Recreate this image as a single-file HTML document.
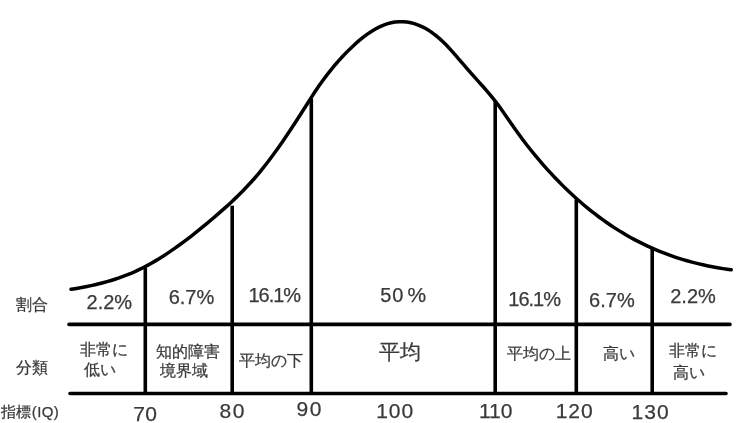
<!DOCTYPE html>
<html lang="ja"><head><meta charset="utf-8">
<style>
html,body{margin:0;padding:0;background:#fff;width:747px;height:423px;overflow:hidden}
svg{position:absolute;left:0;top:0}
text{font-family:"Liberation Sans",sans-serif;fill:#3a3a3a;stroke:#3a3a3a;stroke-width:0.25px}
svg{filter:blur(0.4px)}
</style></head><body>
<svg width="747" height="423" viewBox="0 0 747 423">
<g fill="none" stroke="#000" stroke-width="3.5" stroke-linecap="round" stroke-linejoin="round">
<path d="M71.0 289.32 L75.0 288.66 L79.0 287.97 L83.0 287.24 L87.0 286.45 L91.0 285.62 L95.0 284.73 L99.0 283.78 L103.0 282.76 L107.0 281.67 L111.0 280.50 L115.0 279.25 L119.0 277.91 L123.0 276.47 L127.0 274.94 L131.0 273.30 L135.0 271.55 L139.0 269.69 L143.0 267.71 L147.0 265.62 L151.0 263.42 L155.0 261.11 L159.0 258.70 L163.0 256.20 L167.0 253.60 L171.0 250.92 L175.0 248.14 L179.0 245.29 L183.0 242.36 L187.0 239.36 L191.0 236.29 L195.0 233.15 L199.0 229.95 L203.0 226.70 L207.0 223.39 L211.0 220.03 L215.0 216.63 L219.0 213.18 L223.0 209.67 L227.0 206.09 L231.0 202.42 L235.0 198.64 L239.0 194.75 L243.0 190.72 L247.0 186.55 L251.0 182.23 L255.0 177.72 L259.0 173.03 L263.0 168.14 L267.0 163.04 L271.0 157.76 L275.0 152.30 L279.0 146.68 L283.0 140.93 L287.0 135.04 L291.0 129.04 L295.0 122.94 L299.0 116.75 L303.0 110.50 L307.0 104.19 L311.0 97.92 L315.0 91.77 L319.0 85.85 L323.0 80.23 L327.0 74.89 L331.0 69.81 L335.0 64.99 L339.0 60.40 L343.0 56.03 L347.0 51.87 L351.0 47.91 L355.0 44.17 L359.0 40.66 L363.0 37.40 L367.0 34.40 L371.0 31.68 L375.0 29.26 L379.0 27.14 L383.0 25.35 L387.0 23.90 L391.0 22.80 L395.0 22.06 L399.0 21.69 L403.0 21.68 L407.0 22.03 L411.0 22.75 L415.0 23.84 L419.0 25.29 L423.0 27.11 L427.0 29.30 L431.0 31.86 L435.0 34.79 L439.0 38.09 L443.0 41.76 L447.0 45.78 L451.0 50.10 L455.0 54.62 L459.0 59.28 L463.0 63.97 L467.0 68.63 L471.0 73.18 L475.0 77.63 L479.0 82.05 L483.0 86.51 L487.0 91.07 L491.0 95.81 L495.0 100.80 L499.0 106.10 L503.0 111.67 L507.0 117.41 L511.0 123.22 L515.0 128.99 L519.0 134.61 L523.0 140.01 L527.0 145.20 L531.0 150.23 L535.0 155.13 L539.0 159.89 L543.0 164.53 L547.0 169.04 L551.0 173.43 L555.0 177.69 L559.0 181.83 L563.0 185.86 L567.0 189.76 L571.0 193.55 L575.0 197.23 L579.0 200.79 L583.0 204.25 L587.0 207.59 L591.0 210.83 L595.0 213.96 L599.0 216.98 L603.0 219.91 L607.0 222.73 L611.0 225.46 L615.0 228.09 L619.0 230.62 L623.0 233.06 L627.0 235.41 L631.0 237.67 L635.0 239.84 L639.0 241.92 L643.0 243.92 L647.0 245.83 L651.0 247.66 L655.0 249.41 L659.0 251.09 L663.0 252.69 L667.0 254.21 L671.0 255.66 L675.0 257.04 L679.0 258.35 L683.0 259.59 L687.0 260.76 L691.0 261.87 L695.0 262.92 L699.0 263.91 L703.0 264.83 L707.0 265.70 L711.0 266.52 L715.0 267.27 L719.0 267.98 L723.0 268.64 L727.0 269.24 L731.0 269.80 L731.2 269.83" />
</g>
<g stroke="#000" stroke-width="3.6">
<line x1="145.3" y1="268.0" x2="145.3" y2="395" />
<line x1="232.2" y1="205.7" x2="232.2" y2="395" />
<line x1="311.3" y1="98.5" x2="311.3" y2="395" />
<line x1="495.2" y1="100.9" x2="495.2" y2="395" />
<line x1="576.3" y1="199.2" x2="576.3" y2="395" />
<line x1="652.2" y1="248.4" x2="652.2" y2="395" />
<line x1="69" y1="324.4" x2="730" y2="324.4" stroke-linecap="round"/>
<line x1="70" y1="393.5" x2="726" y2="393.5" stroke-linecap="round"/>
</g>
<g>
<text x="16.30" y="309.90" style="font-size:16.00px">割合</text>
<text x="15.50" y="372.55" style="font-size:16.00px">分類</text>
<text x="1.00" y="417.45" style="font-size:15.00px;letter-spacing:0.40px">指標(IQ)</text>
<text x="86.55" y="309.40" style="font-size:20.00px">2.2%</text>
<text x="168.70" y="304.45" style="font-size:20.00px">6.7%</text>
<text x="248.40" y="302.45" style="font-size:20.00px;letter-spacing:-1.00px">16.1%</text>
<text x="380.30" y="301.90" style="font-size:20.00px;letter-spacing:0.80px">50</text>
<text x="407.40" y="302.00" style="font-size:21.00px">%</text>
<text x="508.30" y="306.30" style="font-size:20.00px;letter-spacing:-1.00px">16.1%</text>
<text x="589.10" y="307.45" style="font-size:20.00px">6.7%</text>
<text x="670.25" y="303.15" style="font-size:20.00px">2.2%</text>
<text x="79.70" y="354.60" style="font-size:16.00px">非常に</text>
<text x="83.55" y="375.30" style="font-size:16.00px">低い</text>
<text x="156.10" y="356.70" style="font-size:16.00px">知的障害</text>
<text x="160.30" y="376.35" style="font-size:16.00px">境界域</text>
<text x="239.25" y="366.35" style="font-size:16.00px">平均の下</text>
<text x="379.10" y="358.60" style="font-size:21.00px">平均</text>
<text x="506.60" y="358.90" style="font-size:16.00px">平均の上</text>
<text x="602.95" y="358.75" style="font-size:16.00px">高い</text>
<text x="669.00" y="356.15" style="font-size:16.00px">非常に</text>
<text x="673.40" y="377.50" style="font-size:16.00px">高い</text>
<text x="133.20" y="421.45" style="font-size:21.00px;letter-spacing:0.50px">70</text>
<text x="219.50" y="417.65" style="font-size:21.00px;letter-spacing:1.50px">80</text>
<text x="296.50" y="416.05" style="font-size:21.00px;letter-spacing:1.50px">90</text>
<text x="376.20" y="417.85" style="font-size:21.00px;letter-spacing:1.00px">100</text>
<text x="478.90" y="417.95" style="font-size:21.00px">110</text>
<text x="555.70" y="417.95" style="font-size:21.00px;letter-spacing:1.00px">120</text>
<text x="631.60" y="418.95" style="font-size:21.00px;letter-spacing:1.00px">130</text>
</g>
</svg>
</body></html>
